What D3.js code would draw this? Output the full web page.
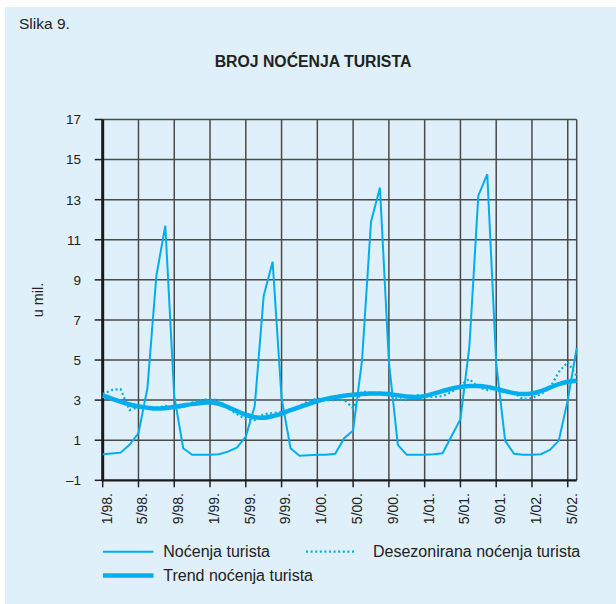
<!DOCTYPE html>
<html>
<head>
<meta charset="utf-8">
<script src="https://cdn.jsdelivr.net/npm/d3@7"></script>
<style>
  html, body { margin: 0; padding: 0; background: #ffffff; }
  svg { display: block; }
  text { font-family: "Liberation Sans", Arial, Helvetica, sans-serif; fill: #222; }
</style>
</head>
<body>
<svg id="chart" width="616" height="604"></svg>
<script>
// ---- data (millions of tourist nights, monthly 1/98 .. 6/02) ----
const months = [
  "1/98","2/98","3/98","4/98","5/98","6/98","7/98","8/98","9/98","10/98","11/98","12/98",
  "1/99","2/99","3/99","4/99","5/99","6/99","7/99","8/99","9/99","10/99","11/99","12/99",
  "1/00","2/00","3/00","4/00","5/00","6/00","7/00","8/00","9/00","10/00","11/00","12/00",
  "1/01","2/01","3/01","4/01","5/01","6/01","7/01","8/01","9/01","10/01","11/01","12/01",
  "1/02","2/02","3/02","4/02","5/02","6/02"
];
const nocenja = [
  0.30,0.34,0.38,0.77,1.35,3.60,9.20,11.70,3.20,0.60,0.27,0.27,
  0.28,0.30,0.43,0.63,1.18,2.70,8.20,9.90,3.10,0.60,0.23,0.25,
  0.27,0.28,0.32,1.10,1.48,5.00,11.90,13.60,4.90,0.77,0.27,0.27,
  0.27,0.30,0.35,1.20,2.05,5.67,13.20,14.27,4.84,0.97,0.32,0.28,
  0.27,0.30,0.52,0.98,3.00,5.60
];
const desezonirana = [
  3.30,3.50,3.55,2.50,2.65,2.62,2.60,2.72,2.60,2.65,2.88,3.00,
  3.05,3.00,2.60,2.30,2.05,2.00,2.30,2.35,2.40,2.55,2.70,2.95,
  3.08,3.00,3.00,3.02,2.60,3.45,3.35,3.30,3.25,3.05,3.00,3.25,
  3.20,3.15,3.20,3.40,3.75,4.05,3.65,3.50,3.60,3.50,3.35,3.05,
  3.10,3.30,3.60,4.40,4.90,4.20
];
const trend = [
  3.22,3.08,2.92,2.78,2.68,2.62,2.58,2.60,2.66,2.73,2.80,2.86,
  2.90,2.82,2.65,2.45,2.27,2.15,2.12,2.20,2.33,2.50,2.65,2.80,
  2.95,3.06,3.15,3.22,3.27,3.31,3.33,3.33,3.30,3.24,3.18,3.16,
  3.20,3.32,3.45,3.57,3.65,3.70,3.71,3.66,3.56,3.45,3.35,3.30,
  3.33,3.45,3.62,3.80,3.92,3.97
];
const xTickLabels = ["1/98.","5/98.","9/98.","1/99.","5/99.","9/99.","1/00.","5/00.","9/00.","1/01.","5/01.","9/01.","1/02.","5/02."];
const yTicks = [-1,1,3,5,7,9,11,13,15,17];
const yTickLabels = ["\u20131","1","3","5","7","9","11","13","15","17"];
const legendLabels = ["No\u0107enja turista","Desezonirana no\u0107enja turista","Trend no\u0107enja turista"];
const figLabel = "Slika 9.";
const title = "BROJ NO\u0106ENJA TURISTA";
const yTitle = "u mil.";

// ---- layout ----
const svg = d3.select("#chart");
const blue = "#00aeef";
const gridCol = "#4a4a4a";

svg.append("rect").attr("x", 5).attr("y", 7).attr("width", 611).attr("height", 597).attr("fill", "#dff0fa");

const x = d3.scaleLinear().domain([0, months.length - 1]).range([102.7, 576.7]);
const y = d3.scaleLinear().domain([-1, 17]).range([480.3, 119.5]);

const tickIdx = xTickLabels.map((d, i) => i * 4);

svg.append("text").attr("x", 19).attr("y", 29).attr("font-size", 15.5).text(figLabel);
svg.append("text").attr("x", 313).attr("y", 67).attr("text-anchor", "middle")
  .attr("font-size", 15.8).attr("font-weight", "bold").text(title);

// grid
const g = svg.append("g");
g.selectAll("line.h").data(yTicks.slice(1)).join("line")
  .attr("x1", x(0)).attr("x2", x(months.length - 1))
  .attr("y1", d => y(d)).attr("y2", d => y(d))
  .attr("stroke", gridCol).attr("stroke-width", 1.5);
g.selectAll("line.v").data(tickIdx.slice(1).concat([months.length - 1])).join("line")
  .attr("x1", d => x(d)).attr("x2", d => x(d))
  .attr("y1", y(-1)).attr("y2", y(17))
  .attr("stroke", gridCol).attr("stroke-width", 1.5);

// y ticks + labels
g.selectAll("line.yt").data(yTicks).join("line")
  .attr("x1", x(0) - 8).attr("x2", x(0))
  .attr("y1", d => y(d)).attr("y2", d => y(d))
  .attr("stroke", "#222").attr("stroke-width", 1.5);
g.selectAll("text.yl").data(yTicks).join("text")
  .attr("x", 81).attr("y", d => y(d)).attr("dy", "0.36em")
  .attr("text-anchor", "end").attr("font-size", 13.5)
  .text((d, i) => yTickLabels[i]);

// x ticks + labels
g.selectAll("line.xt").data(tickIdx).join("line")
  .attr("x1", d => x(d)).attr("x2", d => x(d))
  .attr("y1", y(-1)).attr("y2", y(-1) + 7)
  .attr("stroke", "#222").attr("stroke-width", 1.5);
g.selectAll("text.xl").data(tickIdx).join("text")
  .attr("transform", d => `translate(${x(d) + 3.8},493) rotate(-90)`)
  .attr("dy", "0.36em").attr("text-anchor", "end").attr("font-size", 14)
  .text((d, i) => xTickLabels[i]);

// axes
svg.append("line").attr("x1", x(0)).attr("x2", x(months.length - 1))
  .attr("y1", y(-1)).attr("y2", y(-1)).attr("stroke", "#1a1a1a").attr("stroke-width", 2.2);
svg.append("line").attr("x1", x(0)).attr("x2", x(0))
  .attr("y1", y(-1) + 1).attr("y2", y(17)).attr("stroke", "#1a1a1a").attr("stroke-width", 3);

svg.append("text").attr("transform", "translate(38,300) rotate(-90)")
  .attr("text-anchor", "middle").attr("dy", "0.35em").attr("font-size", 14.5).text(yTitle);

// series
const line = d3.line().x((d, i) => x(i)).y(d => y(d));
const smooth = d3.line().x((d, i) => x(i)).y(d => y(d)).curve(d3.curveMonotoneX);

svg.append("path").datum(trend).attr("d", smooth).attr("fill", "none")
  .attr("stroke", blue).attr("stroke-width", 4.5).attr("stroke-linejoin", "round");
svg.append("path").datum(desezonirana).attr("d", line).attr("fill", "none")
  .attr("stroke", blue).attr("stroke-width", 2.2).attr("stroke-dasharray", "2,2.6");
svg.append("path").datum(nocenja).attr("d", line).attr("fill", "none")
  .attr("stroke", blue).attr("stroke-width", 2).attr("stroke-linejoin", "miter");

// legend
const leg = svg.append("g");
const legItems = [
  {x: 103, y: 551.7, w: 2, dash: null, tx: 163.3},
  {x: 306, y: 551.7, w: 2.2, dash: "2,2.6", tx: 373},
  {x: 103, y: 575.5, w: 4.5, dash: null, tx: 163.3}
];
legItems.forEach((it, i) => {
  leg.append("line").attr("x1", it.x).attr("x2", it.x + 50.5)
    .attr("y1", it.y).attr("y2", it.y)
    .attr("stroke", blue).attr("stroke-width", it.w)
    .attr("stroke-dasharray", it.dash);
  leg.append("text").attr("x", it.tx).attr("y", it.y).attr("dy", "0.36em")
    .attr("font-size", 16).text(legendLabels[i]);
});
</script>
</body>
</html>
